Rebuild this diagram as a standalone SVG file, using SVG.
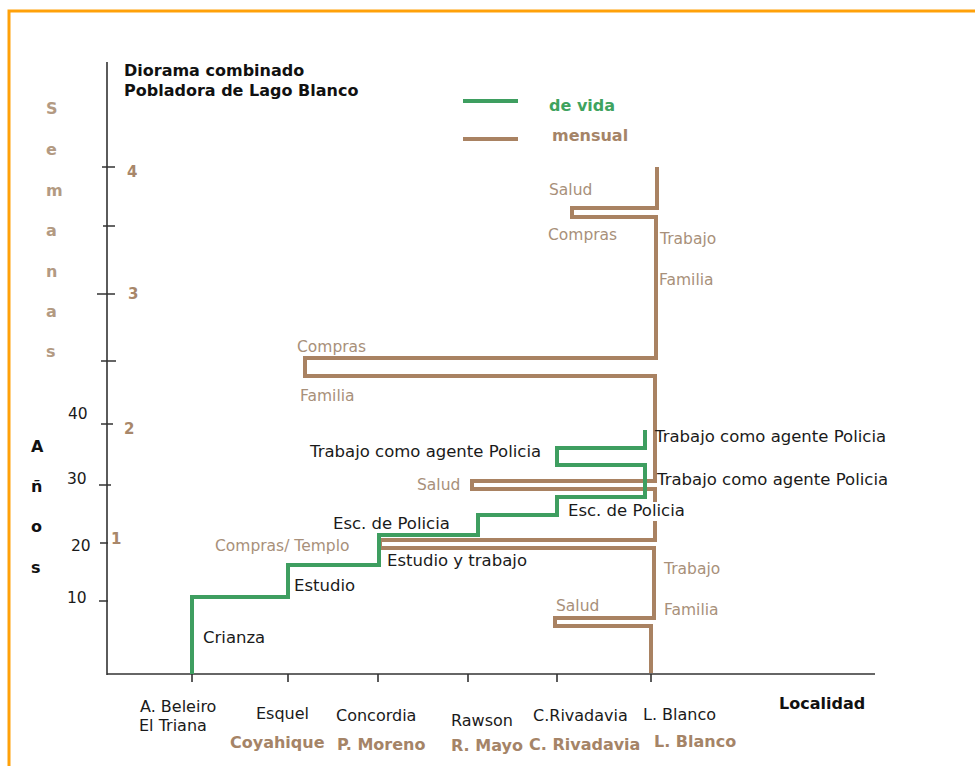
<svg xmlns="http://www.w3.org/2000/svg" width="975" height="766" viewBox="0 0 975 766">
<defs>
<style>
text{font-family:"DejaVu Sans","Verdana",sans-serif}
.ttl{font-size:16px;font-weight:bold;fill:#111}
.blk{font-size:16.5px;fill:#1a1a1a}
.brn{font-size:15.5px;fill:#a8907a}
.bb{font-size:16px;font-weight:bold;fill:#a58467}
.sem{font-size:16px;font-weight:bold;fill:#b39a82}
.ano{font-size:16px;font-weight:bold;fill:#111}
.num{font-size:15.5px;fill:#1a1a1a}
.wk{font-size:15px;font-weight:bold;fill:#a8876a}
.loc{font-size:16px;fill:#1a1a1a}
.axis{stroke:#333;stroke-width:1.6;fill:none}
.vida{stroke:#3e9e60;stroke-width:4;fill:none;stroke-linejoin:miter}
.mens{stroke:#a98262;stroke-width:4;fill:none;stroke-linejoin:miter}
</style>
</defs>
<rect x="0" y="0" width="975" height="766" fill="#ffffff"/>
<rect x="9" y="11" width="990" height="780" fill="none" stroke="#ffa10a" stroke-width="3"/>

<g id="title">
<text class="ttl" x="124" y="76">Diorama combinado</text>
<text class="ttl" x="124" y="96">Pobladora de Lago Blanco</text>
</g>

<g id="legend">
<line x1="463" y1="101" x2="518" y2="101" class="vida"/>
<text x="549" y="111" style="font-size:16px;font-weight:bold;fill:#3fa35f">de vida</text>
<line x1="463" y1="139" x2="518" y2="139" class="mens"/>
<text x="552" y="141" class="bb">mensual</text>
</g>

<g id="axes">
<line x1="107" y1="62" x2="107" y2="675" class="axis"/>
<line x1="107" y1="674" x2="875" y2="674" class="axis"/>
<path class="axis" d="M102 167H115M103 226H115M97 294H115M101 361H116M101 424H113M99 485H111M100 543H108M99 601H108"/>
<path class="axis" d="M192 674V682M288 674V682M378 674V682M468 674V682M557 674V682M651 674V682"/>
</g>

<g id="y-labels">
<text class="sem" x="46" y="114">S</text>
<text class="sem" x="46" y="155">e</text>
<text class="sem" x="46" y="196">m</text>
<text class="sem" x="46" y="236">a</text>
<text class="sem" x="46" y="277">n</text>
<text class="sem" x="46" y="317">a</text>
<text class="sem" x="46" y="357">s</text>
<text class="ano" x="31" y="452">A</text>
<text class="ano" x="31" y="492">ñ</text>
<text class="ano" x="31" y="532">o</text>
<text class="ano" x="31" y="573">s</text>
<text class="wk" x="127" y="177">4</text>
<text class="wk" x="128" y="299">3</text>
<text class="wk" x="124" y="434">2</text>
<text class="wk" x="111" y="544">1</text>
<text class="num" x="68" y="419">40</text>
<text class="num" x="67" y="484">30</text>
<text class="num" x="71" y="551">20</text>
<text class="num" x="67" y="603">10</text>
</g>

<g id="connectors">
<path id="mensual" class="mens" d="M657 167V208H572V217H656V358H305V376H655V481H472V489H655V540H380V548H654V618H555V626H651V673"/>
<path id="vida" class="vida" d="M192 674V597H288V565H379V535H478V515H557V497H645V465H557V448H645V430"/>
</g>

<g id="labels-mensual">
<text class="brn" x="549" y="195">Salud</text>
<text class="brn" x="548" y="240">Compras</text>
<text class="brn" x="660" y="244">Trabajo</text>
<text class="brn" x="659" y="285">Familia</text>
<text class="brn" x="297" y="352">Compras</text>
<text class="brn" x="300" y="401">Familia</text>
<text class="brn" x="417" y="490">Salud</text>
<text class="brn" x="215" y="551">Compras/ Templo</text>
<text class="brn" x="664" y="574">Trabajo</text>
<text class="brn" x="664" y="615">Familia</text>
<text class="brn" x="556" y="611">Salud</text>
</g>

<g id="labels-vida">
<text class="blk" x="310" y="457">Trabajo como agente Policia</text>
<text class="blk" x="655" y="442">Trabajo como agente Policia</text>
<text class="blk" x="657" y="485">Trabajo como agente Policia</text>
<rect x="566" y="502" width="123" height="19" fill="#ffffff"/>
<text class="blk" x="568" y="516">Esc. de Policia</text>
<text class="blk" x="333" y="529">Esc. de Policia</text>
<text class="blk" x="387" y="566">Estudio y trabajo</text>
<text class="blk" x="294" y="591">Estudio</text>
<text class="blk" x="203" y="643">Crianza</text>
</g>

<g id="x-labels">
<text class="loc" x="140" y="712">A. Beleiro</text>
<text class="loc" x="139" y="731">El Triana</text>
<text class="loc" x="256" y="719">Esquel</text>
<text class="loc" x="336" y="721">Concordia</text>
<text class="loc" x="451" y="726">Rawson</text>
<text class="loc" x="533" y="721">C.Rivadavia</text>
<text class="loc" x="643" y="720">L. Blanco</text>
<text x="779" y="709" style="font-size:16px;font-weight:bold;fill:#111">Localidad</text>
<text class="bb" x="230" y="748">Coyahique</text>
<text class="bb" x="337" y="750">P. Moreno</text>
<text class="bb" x="451" y="751">R. Mayo</text>
<text class="bb" x="529" y="750">C. Rivadavia</text>
<text class="bb" x="654" y="747">L. Blanco</text>
</g>
</svg>
